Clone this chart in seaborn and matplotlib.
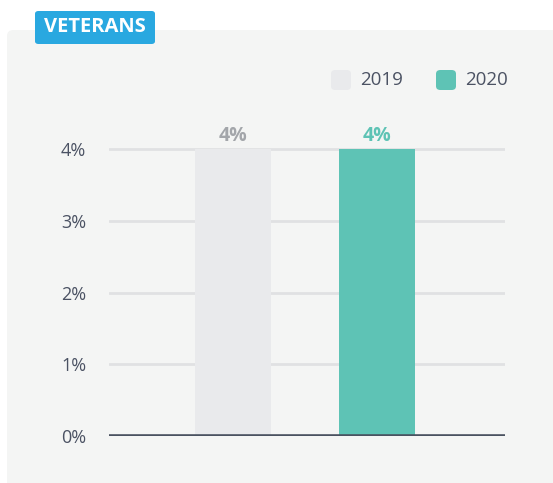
import numpy as np
import pandas as pd
import seaborn as sns
import matplotlib.pyplot as plt
from matplotlib.patches import FancyBboxPatch

years = ['2019', '2020']
values = [4, 4]
bar_colors = ['#e9eaec', '#5ec3b5']
label_colors = ['#a3a6aa', '#5ec3b5']
yticks = [0, 1, 2, 3, 4]
ytick_labels = ['0%', '1%', '2%', '3%', '4%']
title = 'VETERANS'

df = pd.DataFrame({'year': years, 'value': values})

sns.set_theme(style='white')
plt.rcParams['font.family'] = ['Open Sans', 'DejaVu Sans']

W, H = 553, 483
fig = plt.figure(figsize=(W / 100, H / 100), dpi=100)
fig.patch.set_facecolor('white')

# grey panel behind the chart
panel = FancyBboxPatch((7 / W, -0.05), 1.05, (H - 30) / H + 0.05,
                       boxstyle='round,pad=0,rounding_size=0.012',
                       transform=fig.transFigure, facecolor='#f4f5f4',
                       edgecolor='none', zorder=-2)
fig.patches.append(panel)

# title badge
badge = FancyBboxPatch((35 / W, (H - 44) / H), 120 / W, 33 / H,
                       boxstyle='round,pad=0,rounding_size=0.006',
                       transform=fig.transFigure, facecolor='#29a8e0',
                       edgecolor='none', zorder=-1)
fig.patches.append(badge)
fig.text(95 / W, (H - 27.5) / H, title, color='white', fontsize=14.5,
         fontweight='bold', ha='center', va='center')

ax = fig.add_axes([109 / W, 47 / H, 396 / W, (436 - 149) / H * 1.05])
ax.set_facecolor('none')
ax.set_zorder(3)

sns.barplot(data=df, x='year', y='value', hue='year', palette=bar_colors,
            width=0.528, legend=False, ax=ax, zorder=2, saturation=1,
            linewidth=0)

ax.set_xlim(-0.861, 1.889)
ax.set_ylim(0, 4.2)
ax.set_yticks(yticks)
ax.set_yticklabels(ytick_labels)
ax.set_xticks([])
ax.set_xlabel('')
ax.set_ylabel('')
for s in ax.spines.values():
    s.set_visible(False)
ax.tick_params(axis='y', length=0, pad=16.5, labelsize=13, labelcolor='#4b5263')

for y in yticks[1:]:
    ax.axhline(y, color='#e0e1e3', lw=2, zorder=1)
ax.axhline(0, color='#4a5260', lw=2.6, zorder=3, solid_capstyle='round')

for i, (v, c) in enumerate(zip(values, label_colors)):
    ax.text(i, v + 0.11, f'{v}%', ha='center', va='baseline', color=c,
            fontsize=14, fontweight='bold')

# legend
for x0, yr, c in [(331, '2019', bar_colors[0]), (436, '2020', bar_colors[1])]:
    sq = FancyBboxPatch((x0 / W, (H - 90) / H), 20 / W, 20 / H,
                        boxstyle='round,pad=0,rounding_size=0.008',
                        transform=fig.transFigure, facecolor=c,
                        edgecolor='none', zorder=-1)
    fig.patches.append(sq)
    fig.text((x0 + 29) / W, (H - 80) / H, yr, fontsize=13.5,
             color='#4b5263', ha='left', va='center')

fig.savefig('out.png', dpi=100)
